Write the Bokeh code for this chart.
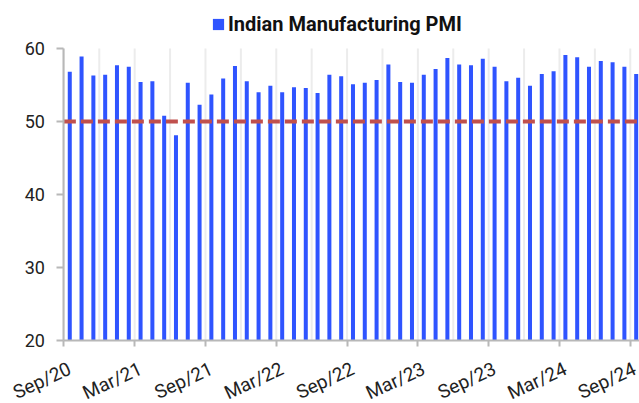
import math
from bokeh.plotting import figure
from bokeh.models import (Range1d, FixedTicker, Legend, LegendItem, ColumnDataSource, LinearAxis)
from bokeh.embed import file_html
from bokeh.resources import INLINE

months = ["Sep/20","Oct/20","Nov/20","Dec/20","Jan/21","Feb/21","Mar/21","Apr/21","May/21","Jun/21",
          "Jul/21","Aug/21","Sep/21","Oct/21","Nov/21","Dec/21","Jan/22","Feb/22","Mar/22","Apr/22",
          "May/22","Jun/22","Jul/22","Aug/22","Sep/22","Oct/22","Nov/22","Dec/22","Jan/23","Feb/23",
          "Mar/23","Apr/23","May/23","Jun/23","Jul/23","Aug/23","Sep/23","Oct/23","Nov/23","Dec/23",
          "Jan/24","Feb/24","Mar/24","Apr/24","May/24","Jun/24","Jul/24","Aug/24","Sep/24"]
pmi = [56.8, 58.9, 56.3, 56.4, 57.7, 57.5, 55.4, 55.5, 50.8, 48.1,
       55.3, 52.3, 53.7, 55.9, 57.6, 55.5, 54.0, 54.9, 54.0, 54.7,
       54.6, 53.9, 56.4, 56.2, 55.1, 55.3, 55.7, 57.8, 55.4, 55.3,
       56.4, 57.2, 58.7, 57.8, 57.7, 58.6, 57.5, 55.5, 56.0, 54.9,
       56.5, 56.9, 59.1, 58.8, 57.5, 58.3, 58.1, 57.5, 56.5]
threshold = 50
y_ticks = [20, 30, 40, 50, 60]
y_min, y_max = 20, 60
series_name = "Indian Manufacturing PMI"

n = len(months)
xpos = [i + 0.5 for i in range(n)]
source = ColumnDataSource(dict(x=xpos, top=pmi, month=months))

FONT = "Roboto"
AXIS_GRAY = "#b8b8b8"

# The frame covers the whole figure; the value area (x 0..n, y 20..60) sits inside it,
# leaving room for the legend above, the y labels left and the date labels below.
p = figure(width=639, height=403, output_backend="svg", toolbar_location=None,
           x_range=Range1d(-5.37, 48.78), y_range=Range1d(11.37, 66.575),
           min_border_left=0, min_border_right=0, min_border_top=0, min_border_bottom=0)
p.extra_x_ranges = {"labels": Range1d(-5.87, 48.28)}
p.outline_line_color = None
p.background_fill_color = "white"
p.border_fill_color = "white"
p.xaxis.visible = False
p.yaxis.visible = False
p.xgrid.grid_line_color = None
p.ygrid.grid_line_color = None

# vertical gridlines every quarter, limited to the value range
grid_x = list(range(0, n, 3))
p.segment(x0=grid_x, x1=grid_x, y0=[y_min] * len(grid_x), y1=[y_max] * len(grid_x),
          line_color="#ececec", line_width=2)

r = p.vbar(x="x", top="top", bottom=y_min, width=0.34, source=source,
           fill_color="#2f54ff", line_color=None)

# 50 threshold line across the value area
p.segment(x0=[0], x1=[n], y0=[threshold], y1=[threshold], line_color="#c0504d",
          line_width=4, line_dash="12 5")

tick_idx = list(range(0, n, 6))

# x axis line + tick marks at half-year boundaries
xa = LinearAxis(fixed_location=y_min, ticker=FixedTicker(ticks=tick_idx),
                bounds=(0, n),
                major_label_text_font_size="1px", major_label_text_alpha=0,
                axis_line_color=AXIS_GRAY, axis_line_width=2,
                major_tick_line_color=AXIS_GRAY, major_tick_line_width=2,
                major_tick_out=6, major_tick_in=0, minor_tick_line_color=None)
p.add_layout(xa, "below")

# rotated date labels
xl = LinearAxis(fixed_location=y_min, x_range_name="labels",
                ticker=FixedTicker(ticks=tick_idx),
                major_label_overrides={i: months[i] for i in tick_idx},
                major_label_orientation=math.radians(25),
                major_label_text_font=FONT, major_label_text_font_size="19px",
                major_label_text_color="#222222", major_label_standoff=21,
                axis_line_color=None, major_tick_line_color=None, minor_tick_line_color=None)
p.add_layout(xl, "below")

# y axis at x = 0
ya = LinearAxis(fixed_location=0, ticker=FixedTicker(ticks=y_ticks), bounds=(y_min, y_max),
                major_label_text_font=FONT, major_label_text_font_size="18px",
                major_label_text_color="#222222", major_label_standoff=12,
                axis_line_color=AXIS_GRAY, axis_line_width=2,
                major_tick_line_color=AXIS_GRAY, major_tick_line_width=2,
                major_tick_out=7, major_tick_in=0, minor_tick_line_color=None)
p.add_layout(ya, "left")

legend = Legend(items=[LegendItem(label=series_name, renderers=[r])],
                location=(211, 367), orientation="horizontal",
                label_text_font=FONT, label_text_font_style="bold",
                label_text_font_size="20px", label_text_color="#111111",
                glyph_width=14, glyph_height=14, label_standoff=3,
                background_fill_alpha=0, border_line_color=None,
                padding=0, margin=0, label_height=20)
p.add_layout(legend)

open("out.html", "w").write(file_html(p, INLINE))
